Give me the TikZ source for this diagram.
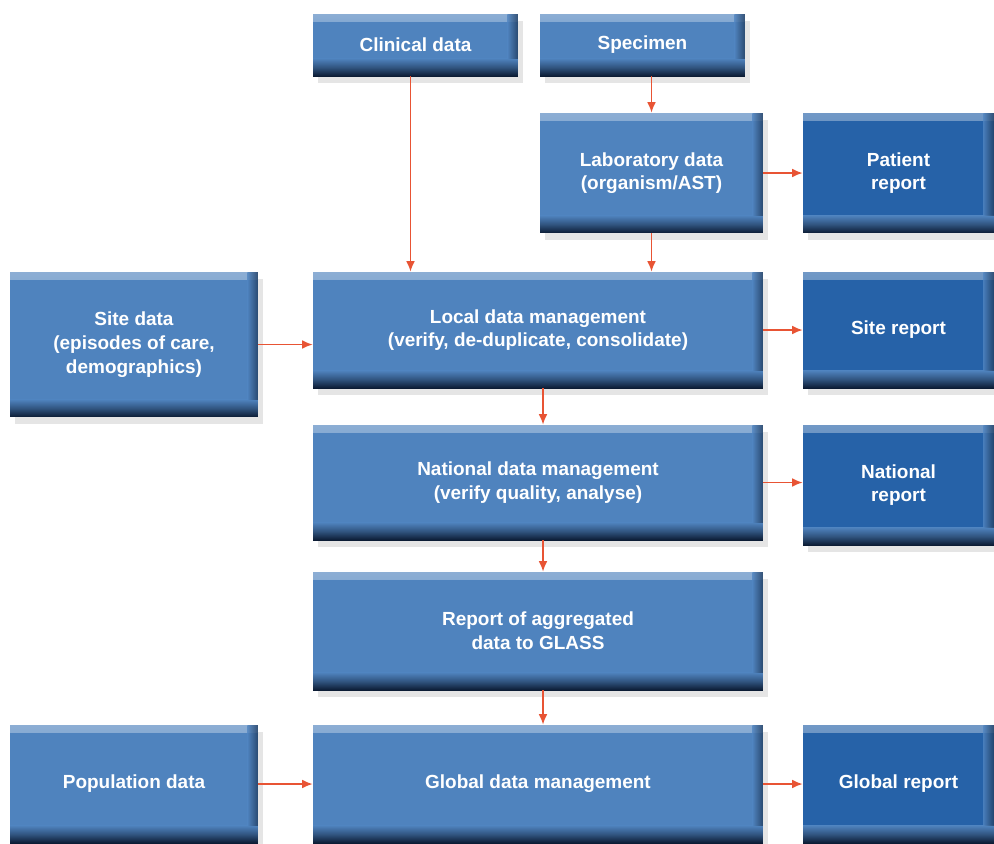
\documentclass[tikz,border=0pt]{standalone}
\usepackage{fontspec}
\setmainfont{Liberation Sans}
\usetikzlibrary{arrows.meta,positioning,calc,shadows}
\definecolor{cbox}{RGB}{79,131,190}
\definecolor{crep}{RGB}{38,98,168}
\definecolor{cedge}{RGB}{12,28,52}
\definecolor{carrow}{RGB}{232,84,52}
\tikzset{
  databox/.style={draw=none, fill=cbox, text=white, align=center, inner sep=0pt,
    font=\bfseries\fontsize{10.8}{13.5}\selectfont,
    drop shadow={opacity=0.2, shadow xshift=3pt, shadow yshift=-4pt},
    path picture={
      \shade[top color=white, bottom color=cbox, opacity=0.35]
        (path picture bounding box.north west) rectangle ([yshift=-4pt]path picture bounding box.north east);
      \shade[top color=cbox, bottom color=cedge, middle color=cbox!55!cedge]
        ([yshift=10pt]path picture bounding box.south west) rectangle (path picture bounding box.south east);
      \shade[left color=cbox, right color=cedge!70!cbox, opacity=0.8]
        ([xshift=-6pt,yshift=10pt]path picture bounding box.north east) rectangle ([yshift=10pt]path picture bounding box.south east);
    }},
  repbox/.style={databox, fill=crep},
  flow/.style={-{Latex[length=6pt,width=5pt]}, carrow, line width=0.9pt}
}
\begin{document}
\begin{tikzpicture}[x=0.02cm,y=-0.02cm]
        \useasboundingbox[fill=white] (0,0) rectangle (994,843);
        % top row
        \node[databox, minimum width=4.10cm, minimum height=1.24cm] (clin) at (415.5,45) {Clinical data};
        \node[databox, minimum width=4.10cm, minimum height=1.24cm] (spec) at (642.5,45) {Specimen};
        \node[databox, minimum width=4.46cm, minimum height=2.40cm] (lab) at (651.5,173) {Laboratory data\\(organism/AST)};
        \node[repbox, minimum width=3.82cm, minimum height=2.40cm] (patrep) at (898.5,173) {Patient\\report};
        % local level
        \node[databox, minimum width=4.96cm, minimum height=2.90cm] (site) at (134,344.5) {Site data\\(episodes of care,\\demographics)};
        \node[databox, minimum width=9.00cm, minimum height=2.32cm] (local) at (538,330) {Local data management\\(verify, de-duplicate, consolidate)};
        \node[repbox, minimum width=3.82cm, minimum height=2.32cm] (siterep) at (898.5,330) {Site report};
        % national level
        \node[databox, minimum width=9.00cm, minimum height=2.30cm] (nat) at (538,482.5) {National data management\\(verify quality, analyse)};
        \node[repbox, minimum width=3.82cm, minimum height=2.40cm] (natrep) at (898.5,485) {National\\report};
        \node[databox, minimum width=9.00cm, minimum height=2.36cm] (agg) at (538,631) {Report of aggregated\\data to GLASS};
        % global level
        \node[databox, minimum width=4.96cm, minimum height=2.36cm] (pop) at (134,784) {Population data};
        \node[databox, minimum width=9.00cm, minimum height=2.36cm] (glob) at (538,784) {Global data management};
        \node[repbox, minimum width=3.82cm, minimum height=2.36cm] (globrep) at (898.5,784) {Global report};
        % connectors
        \draw[flow] ([xshift=-0.1cm]clin.south) -- ([xshift=-0.1cm]clin.south |- local.north);
        \draw[flow] (lab.north |- spec.south) -- (lab.north);
        \draw[flow] (lab.south) -- (lab.south |- local.north);
        \draw[flow] (lab.east) -- (patrep.west);
        \draw[flow] (site.east) -- (local.west |- site.east);
        \draw[flow] (local.east) -- (siterep.west);
        \draw[flow] ([xshift=0.1cm]local.south) -- ([xshift=0.1cm]nat.north);
        \draw[flow] (nat.east) -- (nat.east -| natrep.west);
        \draw[flow] ([xshift=0.1cm]nat.south) -- ([xshift=0.1cm]agg.north);
        \draw[flow] ([xshift=0.1cm]agg.south) -- ([xshift=0.1cm]glob.north);
        \draw[flow] (pop.east) -- (glob.west);
        \draw[flow] (glob.east) -- (globrep.west);
      \end{tikzpicture}
\end{document}
